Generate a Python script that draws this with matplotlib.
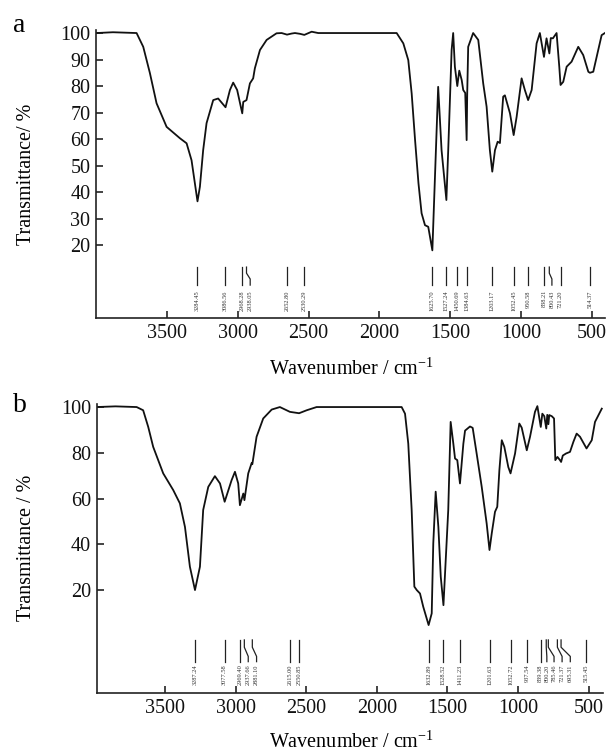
import matplotlib
matplotlib.use('Agg')
import matplotlib.pyplot as plt

plt.rcParams['font.family'] = ['Liberation Serif', 'DejaVu Serif']
plt.rcParams['mathtext.fontset'] = 'custom'
plt.rcParams['mathtext.rm'] = 'Liberation Serif'

# ---- spectrum a ----
wn_a = [3996, 3881, 3714, 3667, 3620, 3573, 3502, 3408, 3361, 3326, 3284, 3267, 3244,
        3220, 3173, 3138, 3086, 3055, 3032, 3004, 2968, 2961, 2938, 2914, 2891, 2879,
        2843, 2796, 2726, 2690, 2652, 2620, 2596, 2560, 2530, 2478, 2432, 1878, 1831,
        1796, 1772, 1748, 1724, 1702, 1678, 1655, 1626, 1585, 1561, 1527, 1514, 1490,
        1479, 1467, 1450, 1436, 1419, 1408, 1394, 1384, 1380, 1373, 1338, 1302, 1267,
        1243, 1220, 1203, 1184, 1165, 1149, 1126, 1114, 1078, 1052, 1031, 996, 973,
        950, 925, 890, 867, 838, 820, 800, 790, 775, 749, 730, 721, 702, 678, 643,
        596, 561, 525, 514, 490, 455, 431, 408]
t_a = [100, 100.3, 100, 94.8, 84.9, 73.5, 64.6, 60.3, 58.4, 52, 36.5, 42, 55.8,
       66, 74.7, 75.3, 72, 78.5, 81.3, 78.5, 69.7, 74, 74.7, 81, 82.9, 86.7,
       93.6, 97.4, 99.9, 100, 99.4, 99.8, 100, 99.7, 99.3, 100.5, 100, 100, 96.1,
       89.8, 77.2, 59.6, 43.3, 32, 27.5, 26.9, 18, 79.7, 55.8, 37, 55.8, 93.6,
       100, 87.3, 80, 85.8, 82.3, 78.5, 77.4, 59.6, 77, 94.8, 100, 97.4, 81,
       72.2, 55.8, 47.7, 55.8, 59, 58.5, 76, 76.5, 69.7, 61.5, 68.4, 82.9, 78.5,
       74.7, 78.5, 96.1, 100, 91, 98, 92.3, 98.1, 98, 100, 87.3, 80.4, 81.6, 87.3, 89.2,
       94.8, 91.7, 85.4, 85, 85.4, 93.6, 99.2, 100]
peaks_a = ['3284.45', '3086.56', '2968.28', '2938.05', '2652.80', '2530.29',
           '1625.70', '1527.24', '1450.69', '1384.63', '1203.17', '1052.45',
           '950.58', '838.21', '800.43', '721.20', '514.37']
# where the label sits (differs from the peak where the tick line is bent)
labpos_a = [3284.45, 3086.56, 2968.28, 2912, 2652.80, 2530.29,
            1625.70, 1527.24, 1450.69, 1384.63, 1203.17, 1052.45,
            950.58, 838.21, 782, 721.20, 514.37]

# ---- spectrum b ----
wn_b = [3984, 3850, 3700, 3654, 3618, 3583, 3512, 3441, 3394, 3358, 3323, 3287, 3252,
        3229, 3193, 3146, 3110, 3077, 3028, 3004, 2981, 2969, 2945, 2937, 2910, 2886,
        2881, 2851, 2804, 2744, 2686, 2615, 2550, 2496, 2426, 1824, 1800, 1777, 1753,
        1734, 1717, 1694, 1671, 1633, 1611, 1600, 1583, 1564, 1547, 1528, 1494, 1477,
        1458, 1446, 1430, 1411, 1387, 1375, 1340, 1321, 1293, 1257, 1222, 1202, 1186,
        1163, 1147, 1132, 1115, 1097, 1069, 1053, 1021, 991, 974, 938, 915, 880, 863,
        839, 828, 814, 800, 793, 785, 779, 761, 745, 736, 721, 703, 695, 683, 660,
        632, 608, 585, 561, 515, 478, 455, 407]
t_b = [100, 100.3, 100, 98.6, 91.3, 82.6, 71, 63.7, 57.9, 47.6, 30.2, 20, 30.2,
       55, 65.1, 69.8, 66.6, 58.6, 68, 71.7, 66.6, 57.1, 62.2, 59.3, 71, 75.5,
       75, 87, 95, 98.9, 100, 97.9, 97.3, 98.6, 100, 100, 97.1, 84, 55,
       21.5, 20, 18.5, 12.7, 4.7, 9.8, 40.4, 63, 47.6, 25.8, 13.4, 55, 93.5,
       84, 77.5, 76.8, 66.6, 84, 89.7, 91.5, 90.9, 79.7, 65.1, 49.1, 37.5, 44.8,
       54.2, 56.4, 72.4, 85.5, 82.6, 73.8, 71, 79.7, 92.8, 91, 81.1, 87, 97.9, 100.4,
       91.3, 97.1, 96, 90.6, 96.6, 92.5, 96.5, 96, 95, 76.8, 78.2, 76.8, 76, 78.8, 79.7,
       80.4, 84.8, 88.4, 87, 81.9, 85.5, 93.5, 99.3]
peaks_b = ['3287.24', '3077.58', '2969.40', '2937.66', '2881.10', '2615.00', '2550.85',
           '1632.89', '1528.52', '1411.23', '1201.63', '1052.72', '937.54',
           '839.38', '800.20', '785.46', '721.37', '695.31', '515.45']
labpos_b = [3287.24, 3077.58, 2969.40, 2910, 2851, 2615.00, 2550.85,
            1632.89, 1528.52, 1411.23, 1201.63, 1052.72, 937.54,
            839.38, 796, 745, 688, 630, 515.45]

xticks = [3500, 3000, 2500, 2000, 1500, 1000, 500]

fig = plt.figure(figsize=(6.11, 7.54), dpi=100)
ax1 = fig.add_axes([0.157, 0.5783, 0.833, 0.3814])
ax2 = fig.add_axes([0.158, 0.0809, 0.829, 0.3838])

FS = 14.5


def draw_panel(ax, wn, t, peaks, labpos, ylim, xlim, yticks, ymarks, ytext):
    ax.plot(wn, t, color='#111111', lw=1.3)
    top, b1, b2, bot = ymarks
    for lab, q in zip(peaks, labpos):
        p = float(lab)
        ax.plot([p, p, q, q], [top, b1, b2, bot], color='#222222', lw=0.9)
        ax.text(q, ytext, lab, rotation=90, ha='center', va='top',
                fontsize=4.6, color='#333333')
    ax.set_xlim(*xlim)
    ax.set_ylim(*ylim)
    ax.set_xticks(xticks)
    ax.set_yticks(yticks)
    for s in ['top', 'right']:
        ax.spines[s].set_visible(False)
    for s in ['left', 'bottom']:
        ax.spines[s].set_linewidth(1.2)
        ax.spines[s].set_color('#222222')
    ax.tick_params(direction='in', length=5, width=1.1, labelsize=FS,
                   colors='#111111', pad=4)


draw_panel(ax1, wn_a, t_a, peaks_a, labpos_a, (-7.5, 101), (4001, 408),
           [20, 30, 40, 50, 60, 70, 80, 90, 100], (11.7, 9.4, 7.2, 4.9), 3.0)
draw_panel(ax2, wn_b, t_b, peaks_b, labpos_b, (-25, 101.5), (3984, 398),
           [20, 40, 60, 80, 100], (-1.8, -5.0, -9.0, -11.3), -12.6)

fig.text(27 / 611, 1 - 174 / 754, 'Transmittance/ %', rotation=90,
         ha='center', va='center', fontsize=FS)
fig.text(27 / 611, 1 - 548 / 754, 'Transmittance / %', rotation=90,
         ha='center', va='center', fontsize=FS)
fig.text(352 / 611, 1 - 369 / 754, 'Wavenumber / cm$^{-1}$',
         ha='center', va='center', fontsize=FS)
fig.text(352 / 611, 1 - 742 / 754, 'Wavenumber / cm$^{-1}$',
         ha='center', va='center', fontsize=FS)
fig.text(19 / 611, 1 - 25 / 754, 'a', ha='center', va='center', fontsize=20)
fig.text(20 / 611, 1 - 405 / 754, 'b', ha='center', va='center', fontsize=20)

fig.savefig('out.png', dpi=100, facecolor='white')
